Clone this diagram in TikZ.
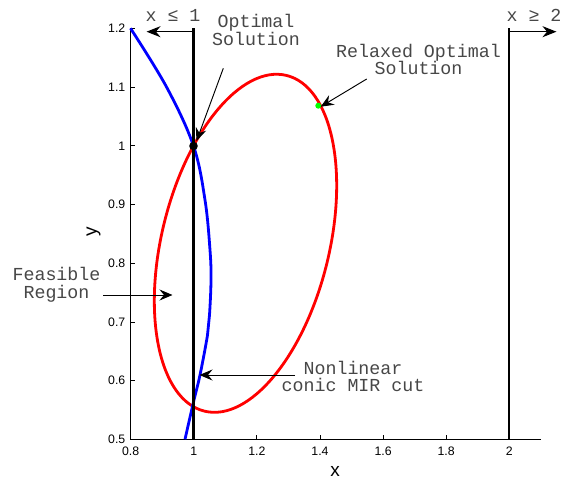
\documentclass[tikz,border=0pt]{standalone}
\usepackage{fontspec}
\setmainfont{Liberation Sans}
\newfontfamily\monofont{Liberation Mono}
\usetikzlibrary{arrows.meta}
\begin{document}
\begin{tikzpicture}[x=1pt,y=1pt,
  annot/.style={font=\monofont\fontsize{18.3}{17.5}\selectfont, text=black!72, align=center, inner sep=0pt},
  ticklab/.style={font=\fontsize{12.3}{14}\selectfont, inner sep=0pt},
  axlab/.style={font=\fontsize{19}{22}\selectfont, inner sep=0pt},
  thinarrow/.style={line width=0.95pt, -{Stealth[length=13pt,width=11pt,inset=4.5pt]}},
  bigarrow/.style={line width=1.6pt, -{Stealth[length=14pt,width=11pt,inset=4.5pt]}},
  axisline/.style={line width=1pt, black},
  boundline/.style={line width=2.2pt, black},
  ellipsecurve/.style={line width=2.8pt, red},
  cutcurve/.style={line width=2.8pt, blue}
]
\useasboundingbox (0,0) rectangle (561,485);

% axes
\coordinate (O) at (130.7,45.7);
\coordinate (XE) at (540.7,45.7);
\coordinate (YE) at (130.7,456.6);
\draw[axisline] (YE) -- (O) -- (XE);

% x ticks
\foreach \v/\px in {0.8/130.7,1/193.8,1.2/256.9,1.4/320.0,1.6/383.1,1.8/446.2,2/509.3}{
  \draw[axisline] (\px,45.7) -- (\px,49.7);
  \node[ticklab] (xt\v) at (\px,34) {\v};
}
% y ticks
\foreach \v/\py in {0.5/45.7,0.6/104.4,0.7/163.0,0.8/221.7,0.9/280.4,1/339.0,1.1/397.7,1.2/456.4}{
  \draw[axisline] (130.7,\py) -- (134.7,\py);
  \node[ticklab, anchor=east] (yt\v) at (125.5,\py) {\v};
}
\node[axlab] (xlab) at (335,13.5) {x};
\node[axlab, rotate=90] (ylab) at (93.5,253) {y};

% feasible region (ellipse)
\draw[ellipsecurve, rotate around={76.26:(245.5,241.7)}] (245.5,241.7) ellipse [x radius=172.8, y radius=83.8];

% conic MIR cut
\draw[cutcurve] plot[smooth, tension=0.6] coordinates {(130.5,456.7) (166.7,397.7) (193.5,339) (205,285) (210,235) (211,205) (209.5,170) (207.5,150) (200,110) (193.5,83) (185,45.7)};

% bound lines
\coordinate (B1b) at (193.5,45.7);
\coordinate (B1t) at (193.5,456.7);
\coordinate (B1a) at (193.5,453.3);
\coordinate (B1tip) at (146.5,453.3);
\draw[boundline] (B1b) -- (B1t);
\draw[bigarrow] (B1a) -- (B1tip);
\coordinate (B2b) at (509.3,45.7);
\coordinate (B2t) at (509.3,456.7);
\coordinate (B2a) at (509.3,453.3);
\coordinate (B2tip) at (556.5,453.3);
\draw[boundline] (B2b) -- (B2t);
\draw[bigarrow] (B2a) -- (B2tip);
\node[annot] (le) at (173,470) {x ≤ 1};
\node[annot] (ge) at (534,470) {x ≥ 2};

% points
\fill[black] (193.5,339) circle (4.3pt) coordinate (opt);
\fill[green] (318.3,379.3) circle (3pt) coordinate (relax);

% annotations
\node[annot] (optl) at (256,455) {Optimal\\Solution};
\coordinate (optfrom) at (223.3,416.7);
\coordinate (optto) at (196.5,344);
\draw[thinarrow] (optfrom) -- (optto);

\node[annot] (relaxl) at (418.5,425.5) {Relaxed Optimal\\Solution};
\coordinate (relfrom) at (366.7,406);
\coordinate (relto) at (320.7,378.3);
\draw[thinarrow] (relfrom) -- (relto);

\node[annot] (feasl) at (56.5,200) {Feasible\\Region};
\coordinate (feasfrom) at (103.3,190);
\coordinate (feasto) at (172.5,190);
\draw[thinarrow] (feasfrom) -- (feasto);

\node[annot] (cutl) at (353,108.5) {Nonlinear\\conic MIR cut};
\coordinate (cutfrom) at (295,110);
\coordinate (cutto) at (199.5,110);
\draw[thinarrow] (cutfrom) -- (cutto);
\end{tikzpicture}
\end{document}
